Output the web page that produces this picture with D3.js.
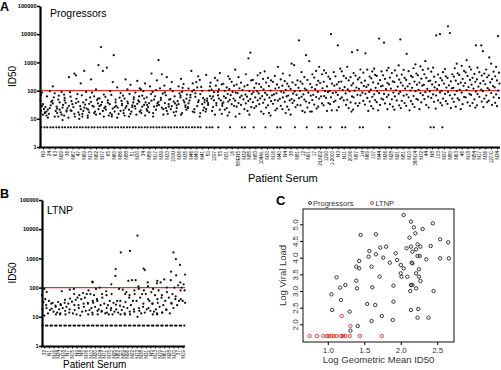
<!DOCTYPE html>
<html><head><meta charset="utf-8">
<script src="https://cdn.jsdelivr.net/npm/d3@7"></script>
<style>body{margin:0;background:#fff}svg{display:block;font-family:"Liberation Sans",Arial,sans-serif}</style>
</head><body>
<script>
// ---------- DATA ----------
const patientsA = ["N9","24","63","N29","36","N67","47","N69","N13","N62","N77","65","N60","N86","N88","51","N30","34","N56","N17","N39","N33","109U","N36","N35","N46","N40","N41","50","1297","55","N31","16","58/EN5","N32","N85","N83","104AL","N30 ","N16","N40 ","N4","38","N81","12","N91","17","2/LN02","1290","1-2000","N3","N11","2006","N57","1st","N69 ","107","N44","N26","N28","N21","N51","N10","38/N14","N72","44","N8","103","N37","N80","N63","46","N18","N54","N17 ","N36 ","127/C","N34"];
const valuesA = [
[5,5,14,19,17,28,22,45,26,33,70,16,85],
[5,5,11,24,18,40,15,62,30,21,95,13],
[5,5,16,12,35,27,58,19,44,23,80,140],
[5,5,9,21,14,48,31,17,66,25,38,90,12],
[5,5,13,29,18,55,11,37,24,72,300,20,45],
[5,5,20,15,42,26,88,12,33,61,400,19],
[5,5,10,36,22,17,51,28,75,14,350,180,40],
[5,5,25,12,47,19,32,68,23,500,15,90,38],
[5,5,17,40,13,29,57,21,85,34,250,11],
[5,5,22,14,63,35,18,46,27,800,110,16,52],
[5,5,12,31,19,53,24,39,15,72,3500,500,28],
[5,5,27,16,45,21,33,650,13,60,95,37],
[5,5,14,38,23,18,70,29,1800,12,48,200,26],
[5,5,19,11,34,56,25,43,15,82,130,30],
[5,5,24,16,41,13,28,66,35,250,20,110,52],
[5,5,15,30,21,49,18,76,38,160,26,12,58],
[5,5,18,34,23,62,14,45,28,120,220,85,40],
[5,5,13,27,52,20,38,95,16,180,66,31,110],
[5,5,22,44,17,31,75,26,140,58,400,36,19],
[5,5,16,29,48,21,90,35,63,12,230,27,105],
[5,5,25,40,14,55,31,78,120,380,1200,22,46],
[5,5,19,36,27,68,15,150,48,300,86,33,24],
[5,5,28,17,50,35,95,22,62,200,41,115,13],
[5,5,14,33,24,57,42,80,18,260,140,30,66],
[5,5,21,45,30,16,72,38,125,52,170,26,90],
[5,5,26,18,58,35,92,44,500,24,180,70,118],
[5,5,17,39,60,28,105,45,200,22,320,80,130],
[5,20,12,47,33,75,25,135,55,240,38,98,16],
[5,5,31,22,64,43,100,18,190,36,360,140,52],
[5,26,14,52,36,88,19,150,62,280,108,30,45],
[5,34,21,68,15,110,45,230,29,420,90,165,52],
[13,21,24,38,41,55,62,77,98,130,175,320],
[5,17,29,33,47,52,69,90,112,150,205,260],
[12,15,27,36,44,58,81,85,120,163,300,550],
[5,5,22,31,35,49,66,72,104,140,190,380],
[14,19,26,43,50,61,75,96,155,230,1400,2200],
[5,24,28,39,45,57,88,94,126,180,240,350],
[15,18,33,37,53,64,79,110,134,170,260,420],
[5,16,25,30,48,56,71,83,145,192,280,480],
[13,20,34,42,46,68,73,100,118,205,230,330],
[5,5,23,29,44,51,80,92,128,165,250,700],
[16,22,27,40,57,62,85,107,150,176,215,400],
[14,21,36,45,50,67,78,115,140,195,350,900],
[5,26,31,44,54,70,93,125,160,230,800,6000],
[17,19,30,48,60,73,98,118,175,210,300,450],
[5,18,25,37,41,66,84,103,170,240,1100,1800],
[18,23,32,46,59,71,112,130,160,290,380,500],
[5,5,27,35,52,63,90,121,185,220,380,700],
[19,30,36,55,64,88,96,140,205,310,420,520],
[5,20,33,40,58,82,97,150,176,260,450,10000],
[20,26,44,51,70,86,120,165,200,320,600,4000],
[5,5,31,45,57,79,105,132,210,275,330,480],
[18,24,38,47,62,94,110,152,230,300,700,2300],
[21,29,35,58,71,99,128,180,250,340,420,2700],
[5,5,36,43,68,84,116,146,190,290,430,560],
[19,32,41,55,77,90,135,160,225,310,550,2100],
[23,28,46,60,74,108,125,195,270,360,480,600],
[20,31,39,52,81,96,142,176,235,330,480,7000],
[22,35,48,59,76,112,150,188,260,350,520,5000],
[5,27,33,49,70,85,118,165,212,290,420,640],
[21,30,45,62,78,102,138,200,245,340,520,780],
[24,36,43,66,90,118,151,190,280,370,540,6500],
[20,29,42,58,72,100,140,175,240,330,490,2000],
[26,33,51,64,95,126,162,210,300,400,620,850],
[22,38,47,69,82,107,150,193,265,350,540,720],
[25,31,50,61,88,116,160,215,280,380,600,1100],
[5,5,40,55,73,94,130,165,226,310,470,650],
[23,37,45,67,86,112,155,201,275,370,9000,10000],
[5,30,42,52,76,98,128,178,230,320,450,580],
[24,34,52,68,89,120,154,212,280,380,11000,19000],
[27,40,53,72,97,125,170,225,310,410,620,900],
[22,33,46,59,84,107,148,190,260,360,500,760],
[29,38,57,76,104,134,185,240,330,440,700,1200],
[25,36,49,70,92,118,162,205,285,390,560,4000],
[30,41,60,75,108,137,180,250,340,450,650,4000],
[26,39,52,67,95,122,168,220,295,400,560,2500],
[31,44,58,82,106,145,195,255,350,470,900,1500],
[28,37,55,73,100,130,178,230,320,430,700,8500]
];
const patientsB = ["32","N1","N16","N24","N78","N7","N15","N9","N8","N76","N10","N20","N74","N71","N75","N25","N52","N59","N96","N22","N73","N38","N31","N5","N13","N79","N61","N28","N70","37","N19"];
const valuesB = [
[5,5,11,18,25,32,40,55,70,90],
[5,5,13,17,20,28,35],
[5,5,12,15,19,24,30],
[5,5,12,14,18,22,27,32],
[5,5,13,16,20,25,30,75],
[5,5,12,14,22,28,38,85],
[5,5,13,18,25,33,42,90],
[5,5,12,17,25,38,45,60],
[5,5,11,15,20,28,40,55,65],
[5,5,12,16,22,30,45,60],
[5,5,14,17,20,28,35,60,80,160],
[5,5,12,16,22,30,40,55,90,150],
[5,5,12,15,18,25,35,60,100],
[5,5,13,16,20,28,45,75],
[5,5,12,14,17,25,35,55,130],
[5,5,12,15,20,26,30,60,250],
[5,5,12,14,18,24,35,90,430],
[5,5,13,17,22,35,60,85,1600],
[5,5,12,15,20,32,45,70,170],
[5,5,12,18,25,35,55,80,180,1800],
[5,5,10,15,20,35,60,110,180,6000],
[5,5,13,16,22,45,60,90,450],
[5,5,14,18,28,40,60,80,150,400],
[5,5,12,16,20,28,35,70,110],
[5,5,13,15,18,28,40,55,90,140],
[5,5,12,14,22,30,45,80,150,170],
[5,5,14,18,25,35,55,100,190],
[5,5,13,17,30,45,70,180],
[5,5,20,28,40,60,100,350,950,1600],
[5,5,25,35,50,80,120,260,600],
[5,5,30,35,40,80,100,130,150,280]
];
const yTicksLog = [1,10,100,1000,10000,100000];
const cutoffID50 = 100;
// Panel C: [log geometric mean ID50, log viral load]
const progressorsC = [[2.04,5.28],[2.14,5.08],[2.44,5.03],[2.18,4.91],[2.30,4.86],[1.45,4.68],[1.66,4.70],[2.20,4.73],[2.12,4.60],[2.54,4.55],[2.65,4.46],[2.23,4.40],[2.08,4.28],[2.14,4.33],[2.27,4.33],[1.72,4.30],[1.80,4.33],[2.41,4.35],[1.57,4.20],[1.43,3.90],[1.56,4.03],[1.66,4.10],[1.76,4.00],[1.93,4.13],[1.95,3.93],[1.85,3.85],[2.16,4.18],[2.21,4.25],[2.23,4.05],[2.26,4.05],[2.35,3.95],[2.54,3.98],[2.66,3.98],[2.15,3.85],[2.16,3.83],[2.00,3.78],[2.04,3.68],[1.39,3.73],[1.43,3.68],[1.60,3.73],[2.25,3.65],[2.21,3.53],[2.00,3.53],[2.01,3.43],[2.09,3.43],[2.25,3.43],[1.71,3.43],[1.12,3.41],[1.39,3.31],[2.27,3.30],[2.14,3.18],[2.16,3.18],[1.90,3.16],[1.17,3.10],[1.24,3.18],[1.40,3.08],[1.61,3.11],[2.21,3.08],[2.13,3.00],[2.45,3.00],[1.05,2.90],[1.18,2.73],[1.90,2.68],[1.54,2.61],[1.65,2.58],[1.06,2.43],[1.30,2.38],[2.14,2.43],[2.24,2.46],[1.74,2.25],[1.60,2.10],[1.89,2.13],[2.23,2.20],[2.38,2.20],[1.41,1.95],[1.31,1.81]];
const ltnpC = [[1.19,2.25],[1.31,1.95],[0.75,1.65],[0.85,1.65],[0.94,1.65],[0.99,1.65],[1.02,1.65],[1.05,1.65],[1.08,1.65],[1.12,1.65],[1.18,1.65],[1.21,1.65],[1.24,1.65],[1.30,1.65],[1.44,1.65],[1.74,1.65]];
const xTicksC = [1.0,1.5,2.0,2.5];
const yTicksC = [2.0,2.5,3.0,3.5,4.0,4.5,5.0];

// ---------- DRAW ----------
const svg = d3.select("body").append("svg").attr("width",501).attr("height",370);
const RED = "#e0302a";

function jitter(vals, i){
  // spread overlapping points horizontally (column scatter)
  const pat = [0,-1.9,1.9,-0.95,0.95,-2.4,2.4];
  const lowPat = [-1.6,1.6,0];
  let k=0, j=0;
  return vals.map(v => v<=5 ? {v, o: lowPat[(j++)%3]} : {v, o: pat[((k++)+i*3)%pat.length]});
}

function columnPanel(cfg){
  const g = svg.append("g");
  const x = d3.scalePoint().domain(cfg.patients.map((d,i)=>i)).range([cfg.x0,cfg.x1]).padding(0.5);
  const y = d3.scaleLog().domain([1,100000]).range([cfg.yb,cfg.yt]);
  g.append("line").attr("x1",cfg.x0).attr("x2",cfg.x1).attr("y1",y(cutoffID50)).attr("y2",y(cutoffID50))
    .attr("stroke",RED).attr("stroke-width",1.1);
  cfg.values.forEach((vals,i)=>{
    g.selectAll(null).data(jitter(vals,i)).join("circle")
      .attr("cx",d=>x(i)+d.o).attr("cy",d=>y(d.v)).attr("r",1.12).attr("fill","#111");
  });
  const ya = g.append("g").attr("transform",`translate(${cfg.x0},0)`)
    .call(d3.axisLeft(y).tickValues(yTicksLog).tickFormat(d3.format("d")).tickSize(3).tickSizeOuter(0));
  ya.select(".domain").attr("stroke-width",2.2);
  ya.selectAll(".tick line").attr("stroke-width",1.5);
  ya.selectAll("text").attr("font-size",5.6).attr("font-weight","bold").attr("x",-3.5).attr("font-family","Liberation Sans Narrow, Liberation Sans, Arial");
  const xa = g.append("g").attr("transform",`translate(0,${cfg.yb})`)
    .call(d3.axisBottom(x).tickFormat(i=>cfg.patients[i].trim()).tickSize(2.5).tickSizeOuter(0));
  xa.select(".domain").attr("stroke-width",2.2).attr("d",`M${cfg.x0-1},0.5H${cfg.x1}`);
  xa.selectAll(".tick line").attr("stroke-width",0.9);
  xa.selectAll("text").attr("font-size",4.6).attr("transform","rotate(-90)")
    .attr("text-anchor","end").attr("x",-4).attr("y",0).attr("dy","0.35em")
    .attr("font-family","Liberation Sans Narrow, Liberation Sans, Arial");
  g.append("text").attr("transform",`translate(${cfg.idx},${(cfg.yt+cfg.yb)/2}) rotate(-90)`)
    .attr("text-anchor","middle").attr("font-size",10).text("ID50");
  g.append("text").attr("x",cfg.tx).attr("y",cfg.ty).attr("font-size",10.5).text(cfg.title);
  g.append("text").attr("x",0).attr("y",cfg.letterY).attr("font-size",12.5).attr("font-weight","bold").text(cfg.letter);
  g.append("text").attr("x",cfg.psx).attr("y",cfg.psy).attr("font-size",cfg.psf).text("Patient Serum");
}

columnPanel({patients:patientsA, values:valuesA, x0:40, x1:500, yb:147, yt:6, idx:16, tx:50, ty:17,
  title:"Progressors", letter:"A", letterY:11, psx:248, psy:182, psf:11});
columnPanel({patients:patientsB, values:valuesB, x0:42, x1:185, yb:346, yt:200, idx:16, tx:47, ty:214,
  title:"LTNP", letter:"B", letterY:198, psx:63, psy:368, psf:10});

// Panel C
const gc = svg.append("g");
const L=303,R=454,T=209,B=342;
const xc = d3.scaleLinear().domain([0.66,2.73]).range([L,R]);
const yc = d3.scaleLinear().domain([1.47,5.46]).range([B,T]);
gc.append("rect").attr("x",L).attr("y",T).attr("width",R-L).attr("height",B-T).attr("fill","none").attr("stroke","#111").attr("stroke-width",1);
const xca = gc.append("g").attr("transform",`translate(0,${B})`)
  .call(d3.axisBottom(xc).tickValues(xTicksC).tickFormat(d3.format(".1f")).tickSize(3).tickSizeOuter(0));
xca.select(".domain").remove();
xca.selectAll("text").attr("font-size",8).attr("fill","#333").attr("y",5);
const yca = gc.append("g").attr("transform",`translate(${L},0)`)
  .call(d3.axisLeft(yc).tickValues(yTicksC).tickFormat(d3.format(".1f")).tickSize(3).tickSizeOuter(0));
yca.select(".domain").remove();
yca.selectAll("text").attr("font-size",8).attr("fill","#333").attr("transform","rotate(-90)")
  .attr("text-anchor","middle").attr("x",0).attr("y",-5).attr("dy",0);
gc.selectAll(null).data(progressorsC).join("circle").attr("cx",d=>xc(d[0])).attr("cy",d=>yc(d[1]))
  .attr("r",1.7).attr("fill","none").attr("stroke","#222").attr("stroke-width",0.9);
gc.selectAll(null).data(ltnpC).join("circle").attr("cx",d=>xc(d[0])).attr("cy",d=>yc(d[1]))
  .attr("r",1.7).attr("fill","none").attr("stroke",RED).attr("stroke-width",0.9);
gc.append("text").attr("x",276).attr("y",205).attr("font-size",13).attr("font-weight","bold").text("C");
gc.append("circle").attr("cx",310).attr("cy",203).attr("r",1.5).attr("fill","none").attr("stroke","#222").attr("stroke-width",0.9);
gc.append("text").attr("x",313).attr("y",205.5).attr("font-size",7.5).attr("fill","#333").text("Progressors");
gc.append("circle").attr("cx",372).attr("cy",203).attr("r",1.5).attr("fill","none").attr("stroke",RED).attr("stroke-width",0.9);
gc.append("text").attr("x",375.5).attr("y",205.5).attr("font-size",7.5).attr("fill","#333").text("LTNP");
gc.append("text").attr("transform",`translate(286,${(T+B)/2}) rotate(-90)`).attr("text-anchor","middle")
  .attr("font-size",9.5).attr("fill","#333").text("Log Viral Load");
gc.append("text").attr("x",(L+R)/2).attr("y",363).attr("text-anchor","middle")
  .attr("font-size",9.5).attr("fill","#333").text("Log Geometric Mean ID50");
</script>
</body></html>
